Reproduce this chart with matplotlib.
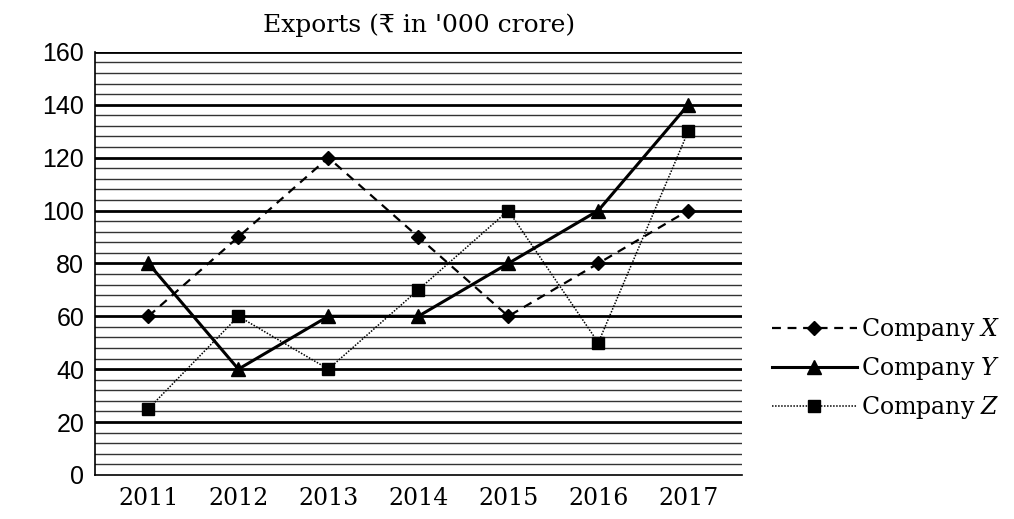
import numpy as np
import matplotlib.pyplot as plt

years = [2011, 2012, 2013, 2014, 2015, 2016, 2017]
company_x = [60, 90, 120, 90, 60, 80, 100]
company_y = [80, 40, 60, 60, 80, 100, 140]
company_z = [25, 60, 40, 70, 100, 50, 130]
y_ticks = [0, 20, 40, 60, 80, 100, 120, 140, 160]

serif = ['DejaVu Serif', 'DejaVu Sans']
plt.rcParams['mathtext.fontset'] = 'dejavuserif'

fig = plt.figure(figsize=(10.14, 5.19), dpi=100)
ax = fig.add_axes([0.094, 0.085, 0.638, 0.815])

# ruled background: thin lines every 4, heavy lines every 20
for v in np.arange(4, 160, 4):
    if v % 20 == 0:
        ax.axhline(v, color='black', lw=2.0, zorder=1)
    else:
        ax.axhline(v, color='#333333', lw=1.0, zorder=1)
ax.axhline(160, color='black', lw=2.0, zorder=1)

ax.plot(years, company_x, color='black', lw=1.6, ls=(0, (4, 3)),
        marker='D', markersize=7, label='Company $X$', zorder=3)
ax.plot(years, company_y, color='black', lw=2.2, ls='-',
        marker='^', markersize=10, label='Company $Y$', zorder=3)
ax.plot(years, company_z, color='black', lw=1.1, ls=(0, (1, 1)),
        marker='s', markersize=8, label='Company $Z$', zorder=3)

ax.set_xlim(2010.41, 2017.6)
ax.set_ylim(0, 160)
ax.set_yticks(y_ticks)
ax.set_xticks(years)
ax.set_xticklabels([str(y) for y in years], family=serif, fontsize=17)
ax.set_yticklabels([str(t) for t in y_ticks], family='Liberation Sans', fontsize=18)
ax.tick_params(axis='y', length=0, pad=8)
ax.tick_params(axis='x', length=0, pad=9)
ax.spines['top'].set_visible(False)
ax.spines['right'].set_visible(False)
ax.spines['left'].set_linewidth(1.2)
ax.spines['bottom'].set_linewidth(1.2)

ax.set_title("Exports (\u20b9 in '000 crore)", family=serif, fontsize=18, pad=14)

leg = fig.legend(loc='center left', bbox_to_anchor=(0.74, 0.29), frameon=False,
                 handlelength=3.6, handletextpad=0.2, labelspacing=0.5,
                 prop={'family': serif, 'size': 17})

fig.savefig('out.png', dpi=100)
